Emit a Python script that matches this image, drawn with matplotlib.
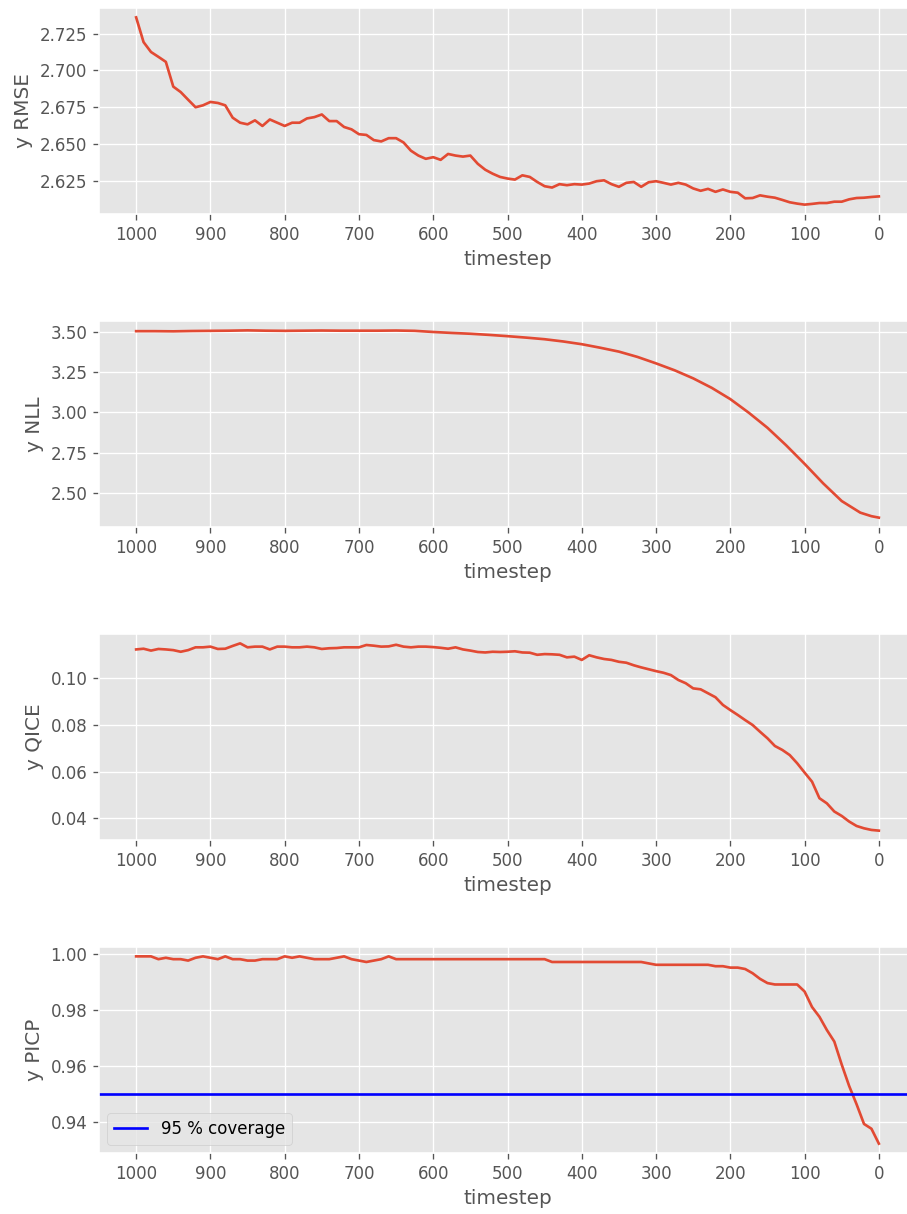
import numpy as np
import matplotlib
matplotlib.use("Agg")
import matplotlib.pyplot as plt

plt.style.use("ggplot")

# ---- data ----
t10 = list(range(1000, -1, -10))

rmse = [2.736, 2.7192, 2.7125, 2.7092, 2.7058, 2.689, 2.6853, 2.6801, 2.675, 2.6763,
        2.6786, 2.6779, 2.6763, 2.6679, 2.6645, 2.6634, 2.6661, 2.6623, 2.6667, 2.6645,
        2.6623, 2.6645, 2.6645, 2.6674, 2.6683, 2.6701, 2.6656, 2.6656, 2.6616, 2.660,
        2.6567, 2.6562, 2.6527, 2.6518, 2.654, 2.654, 2.6511, 2.6455, 2.6422, 2.640,
        2.6411, 2.6393, 2.6433, 2.6422, 2.6415, 2.6422, 2.6366, 2.6326, 2.6299, 2.6277,
        2.6266, 2.6259, 2.6288, 2.6277, 2.6243, 2.6214, 2.6205, 2.6228, 2.6221, 2.6228,
        2.6225, 2.6232, 2.6248, 2.6254, 2.6228, 2.621, 2.6237, 2.6243, 2.621, 2.6241,
        2.6248, 2.6237, 2.6225, 2.6237, 2.6225, 2.6199, 2.6183, 2.6196, 2.6176, 2.6192,
        2.6176, 2.617, 2.6132, 2.6134, 2.6152, 2.6143, 2.6136, 2.6121, 2.6105, 2.6096,
        2.6089, 2.6094, 2.610, 2.610, 2.6109, 2.6109, 2.6125, 2.6134, 2.6136, 2.6141,
        2.6145]

t_nll = [1000, 975, 950, 925, 900, 875, 850, 825, 800, 775, 750, 725, 700, 675, 650,
         625, 600, 575, 550, 525, 500, 475, 450, 425, 400, 375, 350, 325, 300, 275,
         250, 225, 200, 175, 150, 125, 100, 75, 50, 25, 10, 0]
nll = [3.505, 3.505, 3.504, 3.506, 3.507, 3.508, 3.510, 3.508, 3.507, 3.508, 3.509,
       3.508, 3.508, 3.508, 3.509, 3.507, 3.500, 3.494, 3.489, 3.482, 3.474, 3.465,
       3.455, 3.441, 3.424, 3.402, 3.378, 3.345, 3.305, 3.262, 3.212, 3.153, 3.083,
       2.998, 2.905, 2.797, 2.681, 2.560, 2.450, 2.378, 2.356, 2.347]

qice = [0.1124, 0.1127, 0.1119, 0.1126, 0.1124, 0.1121, 0.1114, 0.1121, 0.1133, 0.1133,
        0.1136, 0.1126, 0.1127, 0.1139, 0.1150, 0.1133, 0.1136, 0.1136, 0.1124, 0.1136,
        0.1136, 0.1133, 0.1133, 0.1136, 0.1133, 0.1126, 0.1129, 0.1130, 0.1133, 0.1133,
        0.1133, 0.1143, 0.1140, 0.1136, 0.1137, 0.1144, 0.1136, 0.1133, 0.1136, 0.1136,
        0.1134, 0.1131, 0.1127, 0.1133, 0.1124, 0.1119, 0.1113, 0.1111, 0.1114, 0.1113,
        0.1114, 0.1116, 0.1111, 0.1110, 0.1101, 0.1104, 0.1103, 0.1101, 0.1090, 0.1093,
        0.1079, 0.1099, 0.1090, 0.1083, 0.1079, 0.1071, 0.1067, 0.1056, 0.1047, 0.1039,
        0.1031, 0.1024, 0.1014, 0.0993, 0.0979, 0.0957, 0.0953, 0.0936, 0.0919, 0.0886,
        0.0864, 0.0843, 0.0821, 0.0800, 0.0771, 0.0743, 0.0710, 0.0693, 0.0671, 0.0636,
        0.0596, 0.0557, 0.0486, 0.0464, 0.0429, 0.0410, 0.0386, 0.0367, 0.0357, 0.0350,
        0.0347]

picp = [0.999, 0.999, 0.999, 0.998, 0.9985, 0.998, 0.998, 0.9975, 0.9985, 0.999,
        0.9985, 0.998, 0.999, 0.998, 0.998, 0.9975, 0.9975, 0.998, 0.998, 0.998,
        0.999, 0.9985, 0.999, 0.9985, 0.998, 0.998, 0.998, 0.9985, 0.999, 0.998,
        0.9975, 0.997, 0.9975, 0.998, 0.999, 0.998, 0.998, 0.998, 0.998, 0.998,
        0.998, 0.998, 0.998, 0.998, 0.998, 0.998, 0.998, 0.998, 0.998, 0.998,
        0.998, 0.998, 0.998, 0.998, 0.998, 0.998, 0.997, 0.997, 0.997, 0.997,
        0.997, 0.997, 0.997, 0.997, 0.997, 0.997, 0.997, 0.997, 0.997, 0.9965,
        0.996, 0.996, 0.996, 0.996, 0.996, 0.996, 0.996, 0.996, 0.9955, 0.9955,
        0.995, 0.995, 0.9945, 0.993, 0.991, 0.9895, 0.989, 0.989, 0.989, 0.989,
        0.9865, 0.981, 0.9775, 0.9728, 0.9687, 0.9605, 0.9529, 0.9464, 0.9394, 0.9377,
        0.9324]

coverage = 0.95
coverage_label = "95 % coverage"
xticks = list(range(1000, -1, -100))

# ---- figure ----
W, H, DPI = 907, 1214, 120
fig = plt.figure(figsize=(W / DPI, H / DPI), dpi=DPI)

left_px, width_px = 99, 817
tops = [8, 321, 634, 947]
height_px = 206

panels = [
    (t10, rmse, "y RMSE"),
    (t_nll, nll, "y NLL"),
    (t10, qice, "y QICE"),
    (t10, picp, "y PICP"),
]

for (x, y, lab), top in zip(panels, tops):
    ax = fig.add_axes([left_px / W, 1 - (top + height_px) / H, width_px / W, height_px / H])
    ax.plot(x, y, color="#E24A33", linewidth=1.6)
    ax.set_xticks(xticks)
    ax.set_xlim(1050, -50)
    ax.set_xlabel("timestep")
    ax.set_ylabel(lab)
    if lab == "y PICP":
        ax.axhline(coverage, color="blue", linewidth=1.6, label=coverage_label)
        ax.legend(loc="lower left")

fig.savefig("out.png", dpi=DPI)
